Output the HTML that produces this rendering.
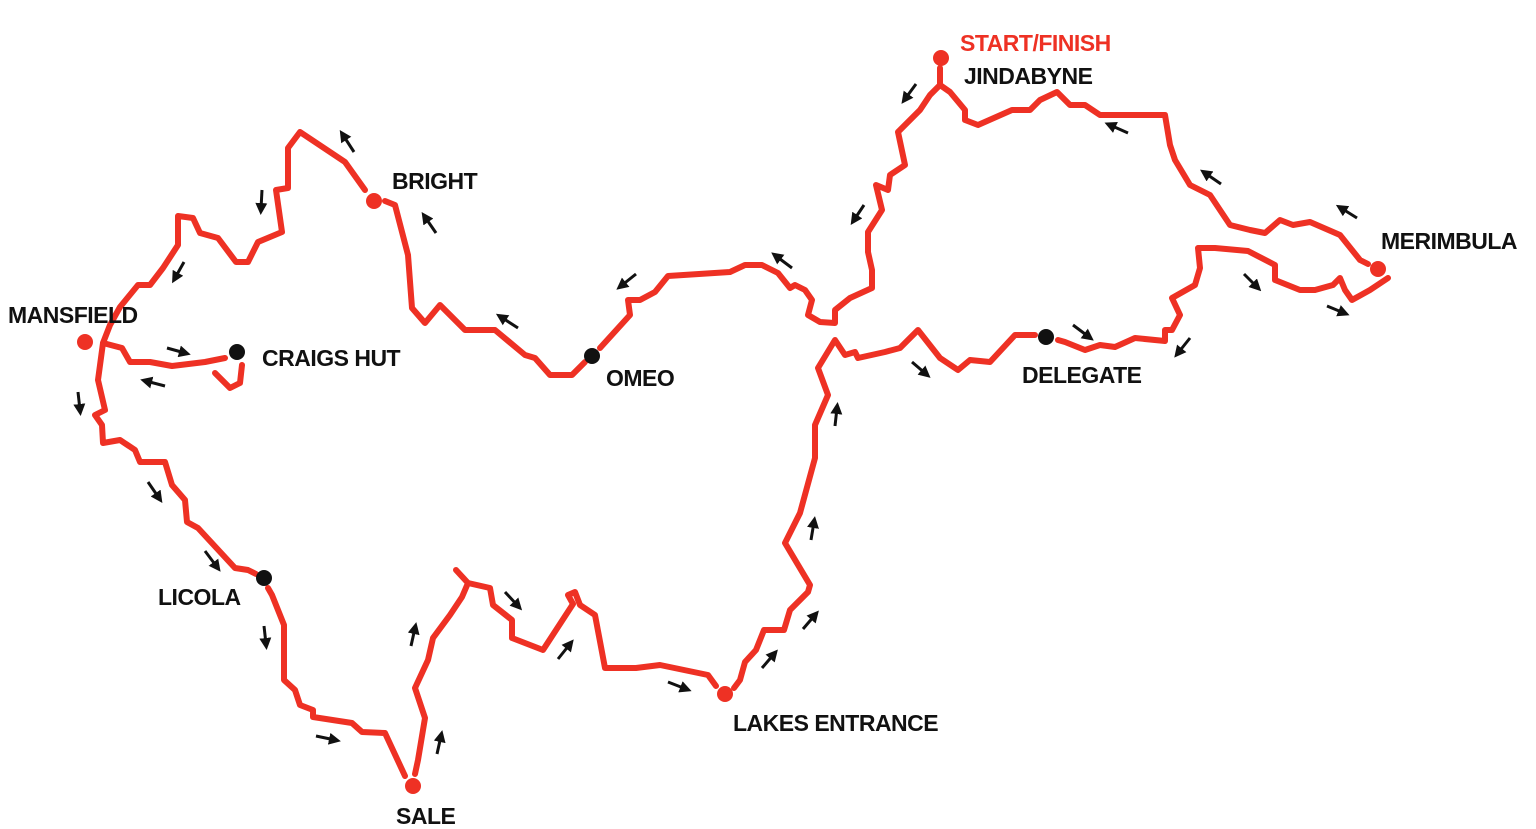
<!DOCTYPE html>
<html><head><meta charset="utf-8"><style>
html,body{margin:0;padding:0;background:#fff;}
svg{display:block}
text{font-family:"Liberation Sans",sans-serif;font-weight:bold;font-size:23px;fill:#111;letter-spacing:-0.5px}
</style></head><body>
<svg width="1536" height="829" viewBox="0 0 1536 829" xmlns="http://www.w3.org/2000/svg">
<defs>
<marker id="ah" markerWidth="4" markerHeight="4" refX="2" refY="2" orient="auto">
<path d="M0,0 L4,2 L0,4 z" fill="#111"/>
</marker>
</defs>
<g fill="none" stroke="#ee3124" stroke-width="6" stroke-linejoin="round" stroke-linecap="round">
<polyline points="940,68 940,85 930,95 920,110 898,132 905,165 890,175 888,190 876,185 882,210 868,232 868,252 872,270 872,288 850,298 835,310 835,323 820,322 808,315 812,300 805,290 795,285 790,288 778,273 762,265 745,265 730,272 668,276 655,292 640,300 628,300 630,315 600,348"/>
<polyline points="585,362 572,375 550,375 535,358 525,355 495,330 465,330 440,305 425,323 412,308 408,255 395,205 385,201"/>
<polyline points="365,190 345,162 300,132 288,148 288,188 276,190 282,232 258,242 248,262 236,262 218,238 200,233 193,218 178,216 178,245 163,268 150,285 138,285 120,307 110,325 103,343 98,380 105,410 95,415 102,425 103,443 120,440 135,450 140,462 165,462 172,485 185,500 187,522 198,528 235,568 248,570 256,574"/>
<polyline points="268,588 272,595 284,625 284,680 295,690 300,705 313,710 313,717 352,723 362,732 385,733 405,776"/>
<polyline points="415,774 418,760 425,718 415,688 428,660 433,638 450,615 462,597 468,583 456,570"/>
<polyline points="468,583 490,588 493,605 512,620 512,638 543,650 573,604 568,595 575,592 580,605 595,615 605,668 636,668 660,665 708,675 716,686"/>
<polyline points="734,688 740,680 745,662 756,650 764,630 784,630 790,610 808,592 810,585 785,543 800,513 815,458 815,425 828,395 818,368 835,340 845,355 855,352 858,358 885,352 900,348 918,330 940,358 958,370 970,360 990,362 1015,335 1035,335"/>
<polyline points="1058,340 1065,342 1085,350 1100,345 1115,347 1135,338 1165,341 1165,330 1172,330 1180,315 1172,298 1195,285 1200,268 1198,248 1215,248 1248,251 1275,265 1275,280 1300,290 1315,290 1333,285 1340,278 1345,290 1352,300 1370,290 1388,278"/>
<polyline points="1368,264 1360,260 1340,235 1310,222 1293,225 1280,220 1265,233 1250,230 1230,225 1210,195 1190,185 1175,160 1170,145 1165,115 1100,115 1085,105 1070,105 1057,92 1040,100 1030,110 1012,110 978,125 965,120 965,110 950,92 940,85"/>
<polyline points="103,343 122,348 130,362 150,362 172,366 205,362 225,358"/>
<polyline points="215,373 230,388 240,383 242,365"/>
</g>
<g fill="#ee3124">
<circle cx="941" cy="58" r="8"/>
<circle cx="374" cy="201" r="8"/>
<circle cx="85" cy="342" r="8"/>
<circle cx="413" cy="786" r="8"/>
<circle cx="725" cy="694" r="8"/>
<circle cx="1378" cy="269" r="8"/>
</g>
<g fill="#111">
<circle cx="237" cy="352" r="8"/>
<circle cx="592" cy="356" r="8"/>
<circle cx="264" cy="578" r="8"/>
<circle cx="1046" cy="337" r="8"/>
</g>
<g stroke="#111" stroke-width="3" marker-end="url(#ah)">
<line x1="916" y1="84" x2="905" y2="99"/>
<line x1="864" y1="205" x2="854" y2="220"/>
<line x1="1128" y1="133" x2="1110" y2="125"/>
<line x1="1221" y1="184" x2="1205" y2="173"/>
<line x1="1357" y1="218" x2="1341" y2="208"/>
<line x1="1244" y1="274" x2="1257" y2="287"/>
<line x1="1327" y1="306" x2="1344" y2="313"/>
<line x1="1073" y1="325" x2="1089" y2="337"/>
<line x1="1190" y1="338" x2="1178" y2="353"/>
<line x1="912" y1="362" x2="926" y2="374"/>
<line x1="835" y1="426" x2="837" y2="408"/>
<line x1="811" y1="540" x2="814" y2="522"/>
<line x1="803" y1="629" x2="815" y2="615"/>
<line x1="762" y1="668" x2="774" y2="654"/>
<line x1="668" y1="682" x2="686" y2="689"/>
<line x1="558" y1="659" x2="570" y2="644"/>
<line x1="505" y1="592" x2="518" y2="606"/>
<line x1="411" y1="646" x2="415" y2="628"/>
<line x1="437" y1="754" x2="441" y2="736"/>
<line x1="316" y1="736" x2="335" y2="740"/>
<line x1="264" y1="626" x2="266" y2="644"/>
<line x1="205" y1="551" x2="217" y2="567"/>
<line x1="148" y1="482" x2="159" y2="498"/>
<line x1="78" y1="392" x2="80" y2="410"/>
<line x1="165" y1="386" x2="146" y2="381"/>
<line x1="167" y1="348" x2="185" y2="353"/>
<line x1="184" y1="262" x2="175" y2="278"/>
<line x1="262" y1="190" x2="261" y2="209"/>
<line x1="354" y1="152" x2="343" y2="135"/>
<line x1="436" y1="233" x2="425" y2="217"/>
<line x1="518" y1="328" x2="501" y2="317"/>
<line x1="636" y1="274" x2="621" y2="286"/>
<line x1="792" y1="268" x2="776" y2="256"/>
</g>
<text x="960" y="51" style="fill:#ee3124">START/FINISH</text>
<text x="964" y="84">JINDABYNE</text>
<text x="392" y="189">BRIGHT</text>
<text x="8" y="323">MANSFIELD</text>
<text x="262" y="366">CRAIGS HUT</text>
<text x="606" y="386">OMEO</text>
<text x="158" y="605">LICOLA</text>
<text x="396" y="824">SALE</text>
<text x="733" y="731">LAKES ENTRANCE</text>
<text x="1022" y="383">DELEGATE</text>
<text x="1381" y="249">MERIMBULA</text>
</svg>
</body></html>
